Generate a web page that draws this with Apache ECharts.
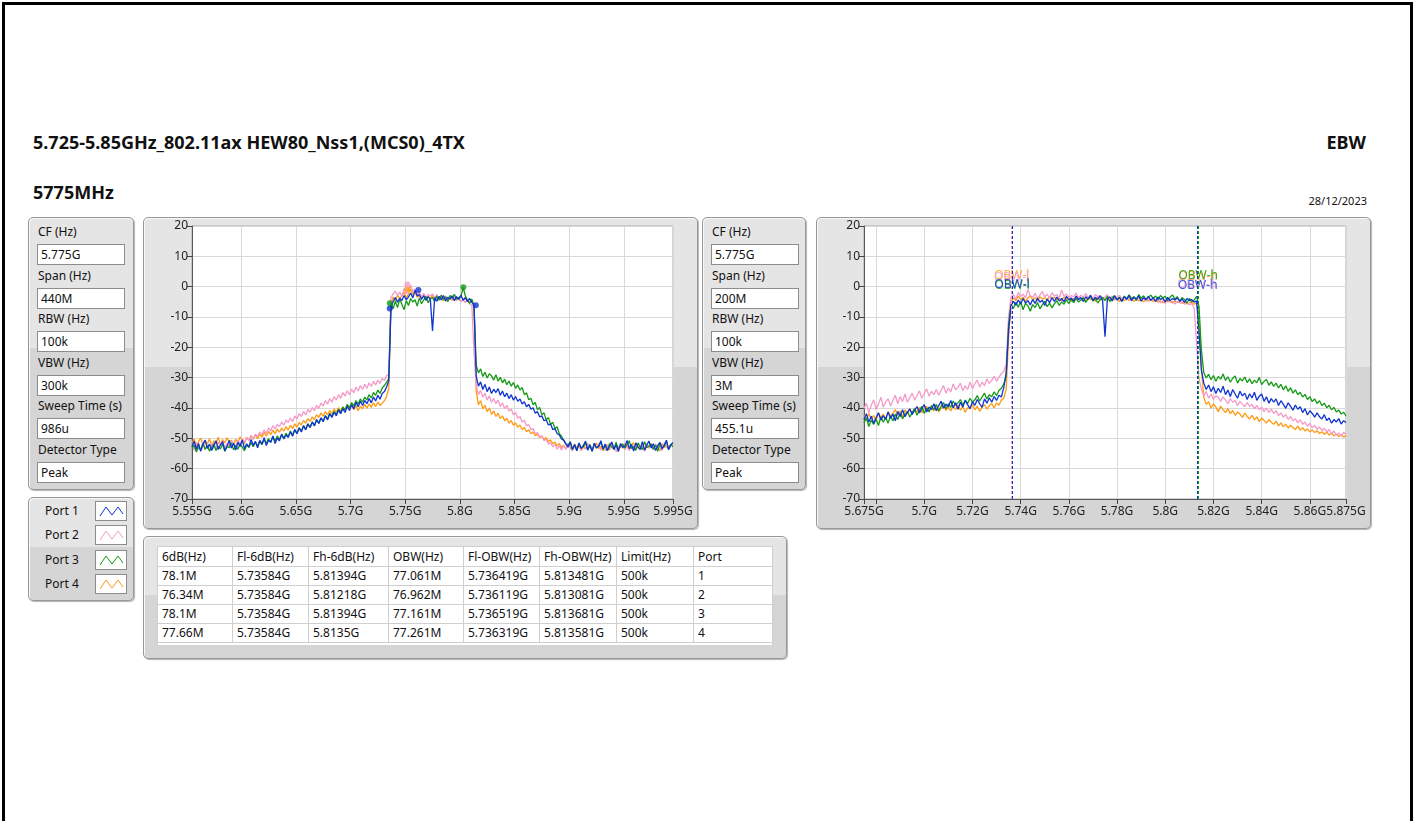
<!DOCTYPE html>
<html>
<head>
<meta charset="utf-8"/>
<style>
    html,body { margin:0; padding:0; width:1415px; height:821px; background:#fff; overflow:hidden;
                font-family:"Noto Sans", sans-serif; color:#111; }
    .frame { position:absolute; left:2px; top:2px; width:1405px; height:900px; border:3px solid #000; }
    .txt { position:absolute; white-space:nowrap; }
    .panel { position:absolute; box-sizing:border-box; border:1px solid #979797; border-radius:5px;
             background:linear-gradient(#e5e5e5 0, #e5e5e5 48%, #d5d5d5 48%, #d5d5d5 100%);
             box-shadow: inset 1px 1px 0 #f8f8f8, 1px 1px 1px #b5b5b5; }
    .lab { position:absolute; font-size:12px; line-height:16px; white-space:nowrap; }
    .box { position:absolute; box-sizing:border-box; background:#fff; border:1px solid #8c8c8c;
           font-size:12px; line-height:19px; padding-left:3px; white-space:nowrap; }
    table.res { position:absolute; left:13px; top:9px; border-collapse:collapse; font-size:12px; background:#fff; }
    table.res td { border:1px solid #cfcfcf; height:18px; padding:0 0 0 4px; white-space:nowrap; line-height:18px; }
    table.res tr.hd td { height:19px; }
</style>
</head>
<body>
<div class="frame"></div>
<div class="txt" style="left:33px;top:130px;font-size:18px;font-weight:bold;">5.725-5.85GHz_802.11ax HEW80_Nss1,(MCS0)_4TX</div>
<div class="txt" style="right:49px;top:130px;font-size:18px;font-weight:bold;">EBW</div>
<div class="txt" style="left:33px;top:180px;font-size:18px;font-weight:bold;">5775MHz</div>
<div class="txt" style="right:48px;top:193px;font-size:11px;">28/12/2023</div>

<div id="param1" class="panel" style="left:28px;top:217px;width:106px;height:273px;"></div>
<div id="param2" class="panel" style="left:702px;top:217px;width:104px;height:273px;"></div>
<div id="legendBox" class="panel" style="left:28px;top:497px;width:106px;height:104px;"></div>
<div class="panel" style="left:143px;top:217px;width:555px;height:312px;"></div>
<div class="panel" style="left:816px;top:217px;width:555px;height:312px;"></div>
<div id="tablePanel" class="panel" style="left:143px;top:536px;width:644px;height:123px;"></div>

<div id="chart" style="position:absolute;left:0;top:0;width:1415px;height:821px;z-index:5;pointer-events:none;"></div>

<script src="https://cdn.jsdelivr.net/npm/echarts/dist/echarts.min.js"></script>
<script type="text/javascript">

// ---- setup values ----
var paramLabels = ['CF (Hz)', 'Span (Hz)', 'RBW (Hz)', 'VBW (Hz)', 'Sweep Time (s)', 'Detector Type'];
var params1 = ['5.775G', '440M', '100k', '300k', '986u', 'Peak'];
var params2 = ['5.775G', '200M', '100k', '3M', '455.1u', 'Peak'];

var ports = ['Port 1', 'Port 2', 'Port 3', 'Port 4'];
var portColors = ['#0f34d0', '#f59ac8', '#149a14', '#ff9a12'];

// ---- result table ----
var tableHead = ['6dB(Hz)', 'Fl-6dB(Hz)', 'Fh-6dB(Hz)', 'OBW(Hz)', 'Fl-OBW(Hz)', 'Fh-OBW(Hz)', 'Limit(Hz)', 'Port'];
var bw6dB = ['78.1M', '76.34M', '78.1M', '77.66M'];
var fl6dB = ['5.73584G', '5.73584G', '5.73584G', '5.73584G'];
var fh6dB = ['5.81394G', '5.81218G', '5.81394G', '5.8135G'];
var obw = ['77.061M', '76.962M', '77.161M', '77.261M'];
var flObw = ['5.736419G', '5.736119G', '5.736519G', '5.736319G'];
var fhObw = ['5.813481G', '5.813081G', '5.813681G', '5.813581G'];
var limit = ['500k', '500k', '500k', '500k'];
var portNo = ['1', '2', '3', '4'];
var colWidths = [75, 76, 80, 75, 76, 77, 77, 79];

// ---- axes ----
var x1Min = 5.555, x1Max = 5.995;
var x1Ticks = [5.555, 5.6, 5.65, 5.7, 5.75, 5.8, 5.85, 5.9, 5.95, 5.995];
var x2Min = 5.675, x2Max = 5.875;
var x2Ticks = [5.675, 5.68, 5.7, 5.72, 5.74, 5.76, 5.78, 5.8, 5.82, 5.84, 5.86, 5.875];
var x2Labels = [5.675, 5.7, 5.72, 5.74, 5.76, 5.78, 5.8, 5.82, 5.84, 5.86, 5.875];

// sweep grid of the traces (GHz)
var sweep1Start = 5.555, sweep1Step = 0.002;   // 221 pts, 440M span
var sweep2Start = 5.675, sweep2Step = 0.001;   // 201 pts, 200M span

// ---- traces, span 440M (dBm) ----
var spec1P1 = [
    -52.8,-50.9,-53.6,-51.7,-54.2,-52.1,-50.6,-53.3,-51.9,-54.0,
    -52.4,-50.8,-53.7,-52.2,-51.1,-54.1,-52.6,-50.7,-53.2,-51.6,
    -53.9,-51.3,-52.7,-50.5,-53.4,-51.8,-52.9,-50.4,-52.3,-51.0,
    -53.1,-50.7,-51.9,-49.8,-52.4,-50.6,-51.3,-49.2,-51.7,-49.9,
    -50.8,-48.6,-50.2,-48.9,-49.7,-47.8,-49.3,-47.1,-48.5,-46.6,
    -47.9,-45.8,-47.2,-45.3,-46.4,-44.6,-45.9,-43.8,-45.1,-43.2,
    -44.5,-42.6,-43.9,-41.8,-43.1,-41.4,-42.6,-40.7,-41.9,-40.2,
    -41.5,-39.4,-40.8,-38.9,-40.3,-38.1,-39.6,-37.8,-39.2,-37.5,
    -38.6,-36.9,-38.3,-36.4,-37.7,-35.8,-37.1,-35.2,-34.6,-33.1,
    -31.0,-7.2,-4.9,-3.6,-5.1,-3.8,-4.6,-2.9,-4.3,-3.4,
    -2.1,-3.7,-1.2,-3.1,-2.6,-4.2,-3.0,-4.5,-3.3,-4.1,
    -14.6,-3.6,-4.8,-3.2,-4.4,-2.9,-4.7,-3.5,-4.1,-3.0,
    -4.6,-3.3,-4.2,-2.8,-4.5,-3.6,-4.9,-3.9,-5.2,-6.1,
    -29.5,-32.8,-31.4,-33.9,-32.2,-34.6,-33.1,-35.2,-33.8,-34.9,
    -33.6,-35.8,-34.4,-36.3,-35.1,-36.9,-35.6,-37.4,-36.2,-37.8,
    -37.0,-38.7,-37.9,-39.6,-38.8,-40.4,-39.9,-41.7,-41.2,-42.9,
    -42.6,-44.2,-43.9,-45.6,-45.3,-47.1,-46.8,-48.4,-48.9,-50.2,
    -50.6,-51.8,-52.9,-51.2,-53.6,-52.0,-54.1,-51.5,-53.3,-52.4,
    -50.9,-53.8,-52.2,-54.3,-51.6,-53.1,-52.7,-50.8,-53.5,-51.9,
    -54.0,-52.5,-51.2,-53.7,-52.1,-54.4,-51.7,-53.0,-52.6,-50.7,
    -53.4,-52.0,-54.2,-51.5,-52.9,-53.6,-51.1,-53.9,-52.3,-50.9,
    -53.2,-51.8,-54.0,-52.4,-51.3,-53.5,-52.2,-50.6,-53.8,-52.1,
    -51.4];
var spec1P2 = [
    -52.0,-53.9,-51.4,-52.8,-54.3,-51.1,-53.2,-52.5,-54.0,-51.8,
    -52.9,-53.6,-51.2,-52.4,-50.8,-53.1,-51.7,-52.6,-50.9,-51.8,
    -52.7,-50.6,-51.9,-50.2,-51.4,-49.7,-50.8,-49.1,-50.3,-48.6,
    -49.4,-47.9,-48.8,-47.2,-48.3,-46.6,-47.5,-45.8,-46.9,-45.4,
    -46.1,-44.6,-45.7,-43.9,-44.8,-43.3,-44.5,-42.6,-43.7,-41.9,
    -42.8,-41.2,-42.3,-40.5,-41.4,-39.8,-40.9,-39.1,-40.2,-38.4,
    -39.3,-37.6,-38.7,-36.9,-38.1,-36.2,-37.4,-35.6,-36.8,-34.9,
    -36.1,-34.3,-35.6,-33.8,-35.0,-33.1,-34.4,-32.6,-33.9,-32.2,
    -33.5,-31.7,-32.9,-31.2,-32.4,-30.8,-31.9,-30.3,-30.9,-29.4,
    -28.8,-3.6,-2.4,-1.5,-2.9,-1.8,-3.2,-0.6,-2.3,-1.4,
    0.5,-1.6,-0.8,-2.7,-1.9,-3.4,-2.2,-3.6,-2.5,-3.1,
    -2.4,-3.7,-2.6,-3.9,-2.8,-4.2,-3.1,-4.4,-3.3,-4.0,
    -3.5,-4.6,-3.8,-4.9,-4.1,-5.3,-4.5,-5.6,-6.2,-22.0,
    -32.4,-35.6,-34.2,-36.4,-35.1,-37.3,-36.0,-38.1,-36.9,-38.6,
    -37.4,-39.5,-38.3,-40.2,-39.1,-41.0,-40.3,-42.2,-41.5,-43.4,
    -42.8,-44.6,-44.0,-45.9,-45.4,-47.2,-46.8,-48.5,-48.1,-49.6,
    -49.2,-50.8,-50.3,-51.9,-51.4,-52.8,-51.9,-53.6,-52.4,-53.9,
    -52.2,-53.7,-51.6,-53.2,-54.1,-52.5,-53.4,-51.8,-54.0,-52.9,
    -53.6,-51.9,-52.8,-54.2,-52.3,-53.5,-51.7,-53.9,-52.6,-54.0,
    -52.1,-53.3,-51.5,-52.9,-54.4,-52.7,-53.1,-51.9,-53.8,-52.4,
    -54.1,-52.6,-53.5,-51.8,-52.8,-53.9,-52.2,-54.3,-51.6,-53.0,
    -52.5,-53.7,-51.9,-53.3,-52.7,-54.0,-51.5,-52.9,-53.4,-52.0,
    -52.6];
var spec1P3 = [
    -53.4,-52.1,-54.5,-52.8,-53.9,-51.6,-53.7,-52.4,-54.2,-52.9,
    -51.8,-54.0,-52.6,-53.5,-51.9,-54.3,-52.7,-53.1,-51.5,-53.8,
    -52.3,-53.6,-51.7,-52.9,-54.1,-52.2,-53.0,-51.4,-52.8,-51.2,
    -52.6,-50.9,-52.1,-50.4,-51.7,-50.1,-51.3,-49.6,-50.8,-49.2,
    -50.4,-48.8,-49.9,-48.3,-49.5,-47.6,-48.9,-47.2,-48.4,-46.5,
    -47.6,-45.9,-47.0,-45.2,-46.4,-44.6,-45.8,-43.9,-45.0,-43.3,
    -44.3,-42.5,-43.6,-41.9,-42.8,-41.1,-42.2,-40.4,-41.5,-39.7,
    -40.6,-38.8,-39.9,-38.2,-39.3,-37.6,-38.7,-37.0,-38.1,-36.4,
    -37.3,-35.6,-36.7,-34.9,-35.8,-34.1,-35.2,-33.4,-32.6,-31.5,
    -30.2,-5.4,-7.3,-4.8,-6.9,-4.1,-5.8,-7.6,-4.6,-6.2,
    -3.9,-5.1,-4.3,-6.4,-3.7,-5.6,-4.4,-3.2,-5.3,-4.0,
    -3.6,-4.9,-3.1,-4.5,-2.8,-4.2,-3.4,-5.0,-2.9,-3.8,
    -2.5,-4.1,-3.6,-3.3,-0.2,-3.0,-4.4,-5.5,-4.1,-6.8,
    -25.9,-28.4,-27.1,-29.6,-28.2,-30.1,-28.7,-29.4,-30.8,-29.0,
    -31.2,-29.9,-31.7,-30.5,-32.3,-31.1,-32.8,-31.6,-33.5,-32.4,
    -34.1,-33.2,-35.6,-35.0,-37.3,-36.8,-38.9,-38.2,-40.6,-39.8,
    -42.2,-41.6,-43.9,-43.1,-45.4,-44.7,-46.8,-46.2,-48.5,-49.3,
    -50.6,-51.8,-52.5,-51.1,-53.7,-52.2,-54.0,-51.6,-53.3,-52.8,
    -51.4,-53.9,-52.0,-54.2,-51.8,-53.1,-52.6,-51.2,-53.6,-52.3,
    -54.1,-51.7,-52.9,-53.5,-51.3,-53.8,-52.4,-51.9,-53.2,-52.0,
    -50.8,-53.4,-52.6,-54.0,-51.5,-52.8,-53.7,-51.1,-53.0,-52.5,
    -51.9,-53.6,-52.2,-54.3,-51.6,-53.1,-52.7,-50.9,-53.5,-52.0,
    -52.8];
var spec1P4 = [
    -51.6,-50.2,-52.8,-51.0,-49.9,-52.3,-50.7,-51.9,-50.1,-52.5,
    -50.8,-51.7,-49.6,-52.1,-50.4,-51.5,-49.8,-51.2,-50.6,-52.0,
    -50.3,-51.4,-49.5,-50.9,-51.8,-49.7,-50.6,-49.1,-50.3,-48.8,
    -50.1,-48.6,-49.6,-48.0,-49.3,-47.7,-48.8,-47.3,-48.5,-46.9,
    -48.0,-46.6,-47.6,-46.1,-47.3,-45.7,-46.8,-45.2,-46.3,-44.8,
    -45.6,-44.1,-45.0,-43.5,-44.4,-42.9,-43.8,-42.2,-43.1,-41.6,
    -42.7,-41.2,-42.3,-40.8,-41.9,-40.3,-41.4,-39.9,-41.1,-39.6,
    -40.8,-39.3,-40.5,-39.0,-40.6,-39.2,-40.9,-39.4,-40.3,-38.8,
    -40.1,-38.6,-39.8,-38.3,-39.5,-38.0,-39.2,-38.4,-37.6,-36.2,
    -33.5,-6.0,-3.4,-4.6,-2.7,-4.1,-3.0,-1.9,-3.6,-2.4,
    -0.8,-2.6,-1.7,-3.5,-2.9,-3.8,-2.5,-4.2,-3.1,-3.9,
    -2.8,-4.4,-3.3,-4.0,-3.6,-4.7,-3.2,-4.3,-3.7,-4.5,
    -3.4,-4.1,-3.8,-4.9,-4.2,-3.6,-4.6,-5.1,-4.4,-5.8,
    -34.6,-38.9,-37.6,-40.3,-39.1,-41.2,-40.0,-42.1,-41.0,-42.8,
    -41.7,-43.5,-42.6,-44.2,-43.4,-45.0,-44.1,-45.7,-44.9,-46.4,
    -45.6,-47.1,-46.4,-47.8,-47.2,-48.5,-47.9,-49.1,-48.6,-49.8,
    -49.2,-50.4,-49.7,-51.1,-50.5,-51.8,-51.2,-52.5,-51.7,-53.0,
    -52.3,-53.4,-51.8,-52.9,-53.7,-51.9,-53.2,-52.5,-54.0,-52.1,
    -53.5,-51.7,-52.8,-53.9,-52.3,-51.6,-53.4,-52.7,-54.1,-51.9,
    -52.6,-53.8,-51.5,-53.0,-52.4,-54.2,-52.0,-53.3,-51.8,-52.9,
    -53.6,-52.2,-51.4,-53.7,-52.5,-53.1,-51.9,-54.0,-52.6,-53.2,
    -51.7,-53.5,-52.1,-52.8,-54.1,-51.8,-53.0,-52.4,-53.6,-52.2,
    -51.9];

// ---- traces, span 200M (dBm) ----
var spec2P1 = [
    -43.8,-41.9,-44.6,-42.7,-45.1,-43.2,-41.6,-44.0,-42.5,-43.7,
    -41.3,-43.4,-42.0,-44.2,-41.1,-42.8,-40.6,-42.9,-41.5,-40.3,
    -42.1,-40.8,-39.5,-41.6,-40.2,-38.9,-41.3,-39.7,-40.5,-38.6,
    -40.9,-39.2,-37.8,-40.1,-38.7,-39.6,-37.5,-39.9,-38.3,-40.4,
    -38.1,-39.7,-37.4,-38.9,-40.2,-37.9,-39.1,-37.2,-38.6,-39.8,
    -37.0,-38.4,-36.6,-38.1,-36.2,-37.5,-35.8,-36.4,-33.2,-28.5,
    -14.5,-6.3,-4.8,-6.1,-4.4,-5.7,-3.9,-5.4,-4.6,-6.0,
    -4.2,-5.5,-3.8,-5.1,-4.5,-6.2,-4.0,-5.3,-3.6,-4.9,
    -3.4,-4.7,-3.9,-5.0,-3.2,-4.4,-3.7,-4.8,-3.1,-4.3,
    -3.6,-4.9,-3.3,-4.1,-2.8,-4.5,-3.5,-4.2,-3.0,-4.6,
    -16.5,-4.0,-3.4,-4.7,-3.1,-4.4,-3.6,-4.9,-3.3,-4.2,
    -2.9,-4.6,-3.5,-4.1,-3.0,-4.8,-3.7,-4.3,-3.2,-4.5,
    -3.6,-4.9,-3.4,-4.2,-3.8,-5.0,-3.5,-4.6,-3.9,-4.4,
    -3.7,-4.8,-4.1,-5.2,-3.9,-4.6,-4.3,-5.1,-4.7,-15.0,
    -27.5,-31.8,-33.9,-32.4,-34.6,-33.0,-35.2,-33.5,-34.9,-32.8,
    -35.6,-34.1,-36.2,-33.9,-35.4,-36.8,-34.5,-36.0,-35.1,-37.2,
    -35.3,-36.7,-34.8,-37.5,-36.1,-35.4,-37.8,-36.3,-38.4,-36.9,
    -38.1,-37.0,-39.2,-37.6,-38.8,-40.1,-38.3,-39.5,-40.7,-39.0,
    -40.4,-39.6,-41.5,-40.2,-42.3,-40.9,-41.8,-43.0,-41.6,-42.9,
    -43.6,-42.2,-44.1,-43.3,-45.0,-43.8,-44.6,-43.5,-45.3,-44.2,
    -44.8];
var spec2P2 = [
    -40.2,-38.4,-41.6,-39.1,-37.3,-40.5,-38.8,-36.4,-39.7,-38.0,
    -36.9,-39.3,-37.5,-35.8,-38.6,-36.2,-37.9,-35.4,-38.1,-36.6,
    -35.1,-37.4,-35.9,-34.3,-36.8,-35.2,-33.7,-36.1,-34.5,-35.6,
    -33.9,-35.8,-34.2,-32.6,-35.1,-33.4,-34.7,-32.1,-34.0,-33.2,
    -31.8,-34.3,-32.7,-33.9,-31.4,-33.6,-32.0,-30.8,-33.1,-31.5,
    -32.6,-30.4,-31.9,-30.9,-29.6,-31.2,-29.8,-28.7,-27.9,-25.6,
    -9.8,-3.5,-2.6,-4.1,-1.9,-3.3,-2.4,-3.8,-0.9,-2.9,
    -3.6,-2.2,-3.9,-2.7,-1.6,-3.4,-2.5,-3.7,-2.0,-3.1,
    -2.6,-3.8,-1.1,-3.2,-2.4,-3.6,-2.9,-3.4,-2.1,-3.9,
    -2.8,-3.5,-2.3,-3.7,-3.0,-4.0,-2.6,-3.3,-2.9,-3.8,
    -3.4,-2.7,-3.9,-3.1,-4.2,-3.5,-2.8,-3.9,-3.3,-4.4,
    -3.6,-4.1,-3.2,-4.5,-3.7,-4.3,-3.5,-4.8,-3.9,-4.6,
    -4.1,-5.0,-4.4,-5.3,-4.6,-5.5,-4.2,-5.1,-4.8,-5.7,
    -4.9,-5.4,-5.0,-5.8,-5.2,-6.0,-5.5,-7.0,-18.5,-30.2,
    -33.8,-35.9,-34.6,-36.8,-35.4,-37.2,-35.9,-36.5,-37.8,-36.3,
    -37.4,-38.6,-36.9,-38.1,-37.5,-39.2,-37.8,-38.7,-39.6,-38.2,
    -39.5,-38.8,-40.3,-39.1,-40.6,-39.7,-41.2,-40.0,-41.5,-40.4,
    -41.8,-40.9,-42.5,-41.6,-43.0,-42.2,-43.7,-42.8,-44.3,-43.5,
    -44.9,-43.8,-45.4,-44.6,-46.0,-45.1,-46.5,-45.8,-47.0,-46.3,
    -47.4,-46.7,-47.9,-47.1,-48.5,-47.6,-48.9,-48.2,-49.3,-48.0,
    -48.7];
var spec2P3 = [
    -44.9,-43.2,-46.1,-44.0,-45.4,-43.6,-45.8,-42.9,-44.7,-43.1,
    -45.0,-42.6,-44.3,-42.0,-43.8,-41.7,-43.5,-42.2,-41.1,-43.0,
    -41.5,-40.2,-42.4,-40.7,-39.5,-41.8,-40.0,-41.3,-39.2,-40.6,
    -38.8,-40.9,-39.4,-38.2,-40.3,-38.6,-39.8,-37.7,-39.1,-38.3,
    -37.2,-39.0,-37.6,-38.5,-36.8,-38.1,-37.3,-35.9,-37.7,-36.4,
    -35.1,-37.0,-35.6,-36.3,-34.7,-35.9,-34.2,-33.5,-32.1,-29.4,
    -12.5,-5.8,-7.2,-5.1,-6.8,-4.9,-7.6,-5.5,-6.3,-8.1,
    -5.9,-6.9,-5.2,-7.3,-6.0,-4.8,-6.6,-5.4,-7.0,-5.7,
    -4.6,-6.2,-5.0,-5.8,-4.3,-5.6,-4.1,-5.3,-3.8,-5.1,
    -4.4,-3.6,-5.2,-4.0,-3.3,-4.7,-3.9,-5.4,-4.2,-3.5,
    -4.6,-3.2,-4.9,-3.7,-2.9,-4.3,-3.5,-4.8,-3.1,-4.0,
    -2.7,-3.9,-3.3,-4.5,-2.6,-3.8,-3.0,-4.2,-3.4,-2.8,
    -3.9,-3.1,-4.4,-2.9,-3.7,-3.2,-4.6,-3.5,-2.7,-4.1,
    -3.3,-4.8,-3.6,-4.2,-5.4,-3.9,-5.0,-4.4,-3.2,-6.5,
    -21.0,-28.4,-30.1,-28.9,-30.7,-29.3,-31.2,-29.6,-30.5,-28.8,
    -30.9,-29.7,-31.5,-30.2,-29.4,-31.8,-30.3,-31.1,-29.8,-31.6,
    -30.4,-32.0,-30.8,-31.7,-29.9,-32.3,-31.2,-30.6,-32.5,-31.4,
    -32.9,-31.8,-33.4,-32.2,-34.0,-32.7,-34.5,-33.3,-35.1,-34.0,
    -35.6,-34.8,-36.4,-35.5,-37.2,-36.3,-37.9,-37.0,-38.5,-37.6,
    -39.2,-38.4,-39.9,-39.1,-40.6,-39.8,-41.3,-40.7,-42.0,-41.4,
    -42.6];
var spec2P4 = [
    -42.3,-44.1,-41.8,-43.6,-42.5,-44.4,-41.5,-43.2,-42.0,-43.9,
    -41.2,-42.8,-41.7,-40.5,-42.4,-41.0,-42.9,-40.6,-41.8,-40.2,
    -41.9,-40.4,-41.3,-39.8,-41.6,-40.1,-39.4,-41.2,-40.0,-40.9,
    -39.6,-41.3,-40.2,-39.1,-40.8,-39.7,-41.0,-39.3,-40.5,-39.0,
    -40.7,-39.5,-41.4,-39.9,-40.3,-38.8,-40.6,-39.4,-41.1,-39.7,
    -38.9,-40.4,-39.2,-38.5,-40.0,-38.3,-39.1,-37.4,-36.8,-33.9,
    -16.5,-5.2,-3.7,-4.6,-3.1,-4.3,-3.5,-4.9,-3.8,-3.0,
    -4.4,-3.6,-4.8,-3.3,-4.1,-3.7,-4.5,-3.2,-4.0,-3.5,
    -4.3,-3.8,-4.7,-3.4,-4.2,-3.6,-4.9,-3.9,-4.4,-3.3,
    -4.1,-3.7,-4.6,-3.5,-4.3,-3.9,-4.8,-3.4,-4.5,-3.8,
    -4.2,-3.6,-4.7,-4.0,-4.4,-3.7,-4.9,-4.1,-4.6,-3.9,
    -4.5,-4.0,-4.8,-4.2,-4.6,-4.1,-5.0,-4.3,-4.7,-4.4,
    -4.9,-4.3,-5.1,-4.6,-5.3,-4.5,-5.0,-4.8,-5.4,-4.7,
    -5.2,-4.9,-5.5,-5.0,-5.7,-5.3,-5.1,-5.8,-5.4,-9.0,
    -27.0,-36.5,-38.8,-37.9,-40.1,-38.6,-39.7,-41.2,-39.4,-40.6,
    -41.5,-40.2,-41.9,-40.8,-42.4,-41.3,-42.0,-43.1,-41.7,-42.8,
    -43.6,-42.4,-43.9,-42.9,-44.5,-43.3,-44.1,-45.0,-43.8,-44.7,
    -45.4,-44.3,-45.9,-44.9,-46.2,-45.3,-46.6,-45.7,-46.4,-47.1,
    -46.0,-47.3,-46.5,-47.6,-46.9,-47.9,-47.2,-48.1,-47.5,-48.4,
    -47.8,-48.7,-48.0,-48.9,-48.3,-49.2,-48.6,-49.4,-48.8,-49.6,
    -49.1];

// 6dB marker dots on the 440M plot [freq GHz, dBm]
var dots1P1 = [[5.7359, -7.2], [5.7621, -1.1], [5.8146, -6.1]];
var dots1P2 = [[5.7520, 0.7]];
var dots1P3 = [[5.7359, -5.5], [5.8032, -0.2]];
var dots1P4 = [[5.7520, -0.8]];

// height (dBm) where the OBW-l / OBW-h cursor names sit
var obwLabelLow = [0.8, 3.0, 0.5, 3.5];
var obwLabelHigh = [0.3, 0.8, 3.5, 3.2];

var spec1 = [spec1P1, spec1P2, spec1P3, spec1P4];
var spec2 = [spec2P1, spec2P2, spec2P3, spec2P4];
var dots1 = [dots1P1, dots1P2, dots1P3, dots1P4];

// ---- build the LabVIEW style controls ----
function fillParams(id, vals) {
    var el = document.getElementById(id);
    var html = '';
    for (var i = 0; i < paramLabels.length; i++) {
        var y = 6 + i * 43.6;
        html += '<div class="lab" style="left:9px;top:' + y + 'px;">' + paramLabels[i] + '</div>';
        html += '<div class="box" style="left:8px;top:' + (y + 20) + 'px;width:88px;height:21px;">' + vals[i] + '</div>';
    }
    el.innerHTML = html;
}
fillParams('param1', params1);
fillParams('param2', params2);

(function () {
    var el = document.getElementById('legendBox');
    var html = '';
    for (var i = 0; i < ports.length; i++) {
        var cy = 13 + i * 24.3;
        html += '<div class="lab" style="left:16px;top:' + (cy - 8) + 'px;">' + ports[i] + '</div>';
        html += '<svg style="position:absolute;left:66px;top:' + (cy - 10) + 'px;" width="32" height="20">' +
            '<rect x="0.5" y="0.5" width="31" height="19" fill="#fff" stroke="#8c8c8c"/>' +
            '<polyline points="5,15 11,6 17,14 23,6 28,13" fill="none" stroke="' + portColors[i] + '" stroke-width="1"/></svg>';
    }
    el.innerHTML = html;
})();

(function () {
    var cols = [bw6dB, fl6dB, fh6dB, obw, flObw, fhObw, limit, portNo];
    var html = '<table class="res"><tr class="hd">';
    for (var c = 0; c < tableHead.length; c++) {
        html += '<td style="width:' + (colWidths[c] - 5) + 'px">' + tableHead[c] + '</td>';
    }
    html += '</tr>';
    for (var r = 0; r < 4; r++) {
        html += '<tr>';
        for (var c = 0; c < cols.length; c++) html += '<td>' + cols[c][r] + '</td>';
        html += '</tr>';
    }
    html += '<tr><td colspan="8" style="height:2px;border-bottom:none;"></td></tr></table>';
    document.getElementById('tablePanel').innerHTML = html;
})();

// ---- charts ----
function toPairs(start, step, arr) {
    return arr.map(function (v, i) { return [+(start + step * i).toFixed(4), v]; });
}
function ghz(v) { return (+v.toFixed(3)) + 'G'; }

var axisFont = { fontFamily: 'Noto Sans', fontSize: 12, color: '#222' };

function xAxisOf(idx, min, max, ticks, labels) {
    return {
        type: 'value', gridIndex: idx, min: min, max: max,
        axisLine: { show: true, onZero: false, lineStyle: { color: '#5a5a5a' } },
        axisTick: { show: true, length: 5, customValues: ticks, lineStyle: { color: '#444' } },
        axisLabel: Object.assign({ customValues: labels, margin: 7, formatter: ghz }, axisFont),
        splitLine: { show: true, lineStyle: { color: '#d9d9d9' } }
    };
}
function yAxisOf(idx) {
    return {
        type: 'value', gridIndex: idx, min: -70, max: 20, interval: 10,
        axisLine: { show: true, lineStyle: { color: '#5a5a5a' } },
        axisTick: { show: true, length: 5, lineStyle: { color: '#444' } },
        axisLabel: Object.assign({ margin: 4 }, axisFont),
        splitLine: { show: true, lineStyle: { color: '#d9d9d9' } }
    };
}

var drawOrder = [3, 1, 2, 0];   // orange, pink, green, blue on top
var series = [];
drawOrder.forEach(function (p) {
    series.push({
        name: ports[p], type: 'line', xAxisIndex: 0, yAxisIndex: 0,
        data: toPairs(sweep1Start, sweep1Step, spec1[p]),
        showSymbol: false, lineStyle: { width: 1.3, color: portColors[p] }, itemStyle: { color: portColors[p] },
        z: 2
    });
    series.push({
        name: ports[p], type: 'scatter', xAxisIndex: 0, yAxisIndex: 0,
        data: dots1[p], symbolSize: 6, itemStyle: { color: portColors[p] }, z: 3
    });
    series.push({
        name: ports[p], type: 'line', xAxisIndex: 1, yAxisIndex: 1,
        data: toPairs(sweep2Start, sweep2Step, spec2[p]),
        showSymbol: false, lineStyle: { width: 1.3, color: portColors[p] }, itemStyle: { color: portColors[p] },
        z: 2,
        markLine: {
            silent: true, symbol: 'none', animation: false, precision: 6,
            label: { show: false },
            lineStyle: { color: portColors[p], type: [3, 2], width: 1 },
            data: [{ xAxis: parseFloat(flObw[p]) }, { xAxis: parseFloat(fhObw[p]) }]
        }
    });
    series.push({
        name: ports[p] + ' OBW', type: 'scatter', xAxisIndex: 1, yAxisIndex: 1,
        data: [[parseFloat(flObw[p]), obwLabelLow[p]], [parseFloat(fhObw[p]), obwLabelHigh[p]]],
        symbolSize: 1, itemStyle: { color: 'transparent' }, z: 4,
        label: {
            show: true, position: 'inside', fontFamily: 'Noto Sans', fontSize: 12,
            color: portColors[p],
            formatter: function (d) { return d.dataIndex === 0 ? 'OBW-l' : 'OBW-h'; }
        }
    });
});

var myChart = echarts.init(document.getElementById('chart'), null, { renderer: 'canvas' });
myChart.setOption({
    animation: false,
    backgroundColor: 'transparent',
    grid: [
        { left: 192, top: 226, width: 481, height: 273, show: true, backgroundColor: '#fff', borderColor: '#a8a8a8', borderWidth: 1 },
        { left: 864, top: 226, width: 482, height: 273, show: true, backgroundColor: '#fff', borderColor: '#a8a8a8', borderWidth: 1 }
    ],
    xAxis: [xAxisOf(0, x1Min, x1Max, x1Ticks, x1Ticks), xAxisOf(1, x2Min, x2Max, x2Ticks, x2Labels)],
    yAxis: [yAxisOf(0), yAxisOf(1)],
    series: series
});

</script>
</body>
</html>
